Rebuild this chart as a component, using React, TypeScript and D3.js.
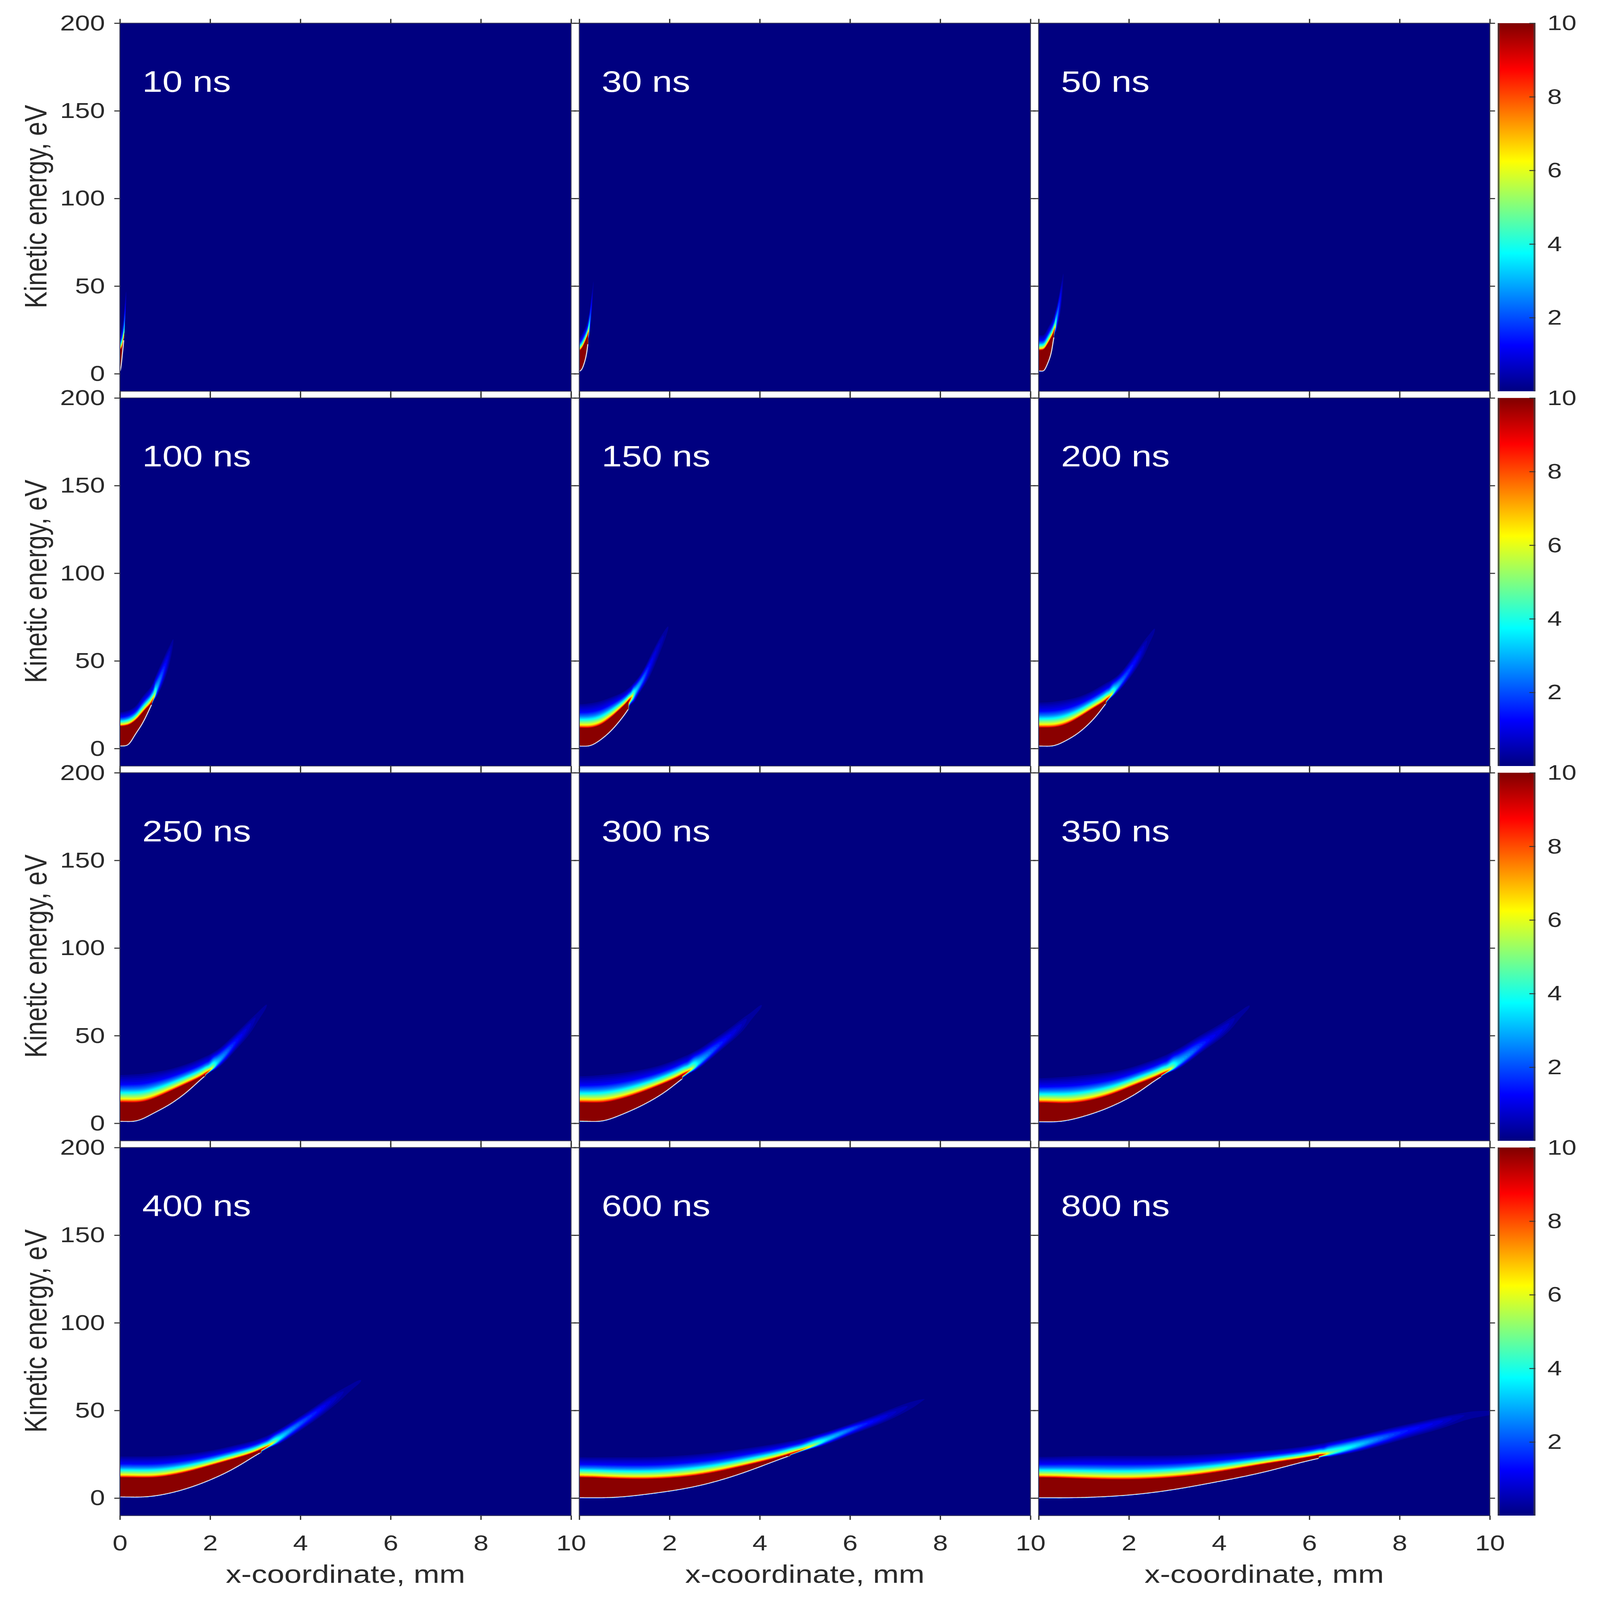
import * as d3 from 'd3';
import { useEffect, useRef } from 'react';

const WIDTH = 4284;
const HEIGHT = 5251;
const PANEL_SIZE = 1208;
const PANEL_LEFT = 321;
const PANEL_TOP = 76;
const PERIOD = 1230;
const BAR_LEFT = 4010;
const BAR_WIDTH = 101;
const FONT = '"Liberation Sans", Arial, sans-serif';
const TEXT_COLOR = '#2a2a2a';
const NAVY = '#000080';

const X_DOMAIN = [0, 10];
const Y_DOMAIN = [-10, 200];
const BAR_DOMAIN = [0, 10];
const X_TICKS = [0, 2, 4, 6, 8, 10];
const Y_TICKS = [0, 50, 100, 150, 200];
const BAR_TICKS = [2, 4, 6, 8, 10];

const JET_STOPS = [0, 1.25, 3.75, 6.25, 8.75, 10];
const JET_COLORS = ['#000080', '#0000ff', '#00ffff', '#ffff00', '#ff0000', '#800000'];

const SAT_T = [0, 0.05, 0.14, 0.23, 0.33, 0.45, 0.62, 1];
const SAT_V = [1, 0.8, 0.6, 0.5, 0.38, 0.25, 0.12, 0];
const BELL_T = [0, 0.1, 0.25, 0.45, 0.65, 0.85, 1];
const BELL_V = [1, 0.97, 0.85, 0.6, 0.33, 0.12, 0];

// per panel: x stations (mm), lower edge, ridge and top of the band (eV), value on the ridge
const X_10 = [0, 0.025, 0.05, 0.07, 0.085, 0.1, 0.115, 0.13, 0.14, 0.15];
const LOW_10 = [1, 4, 10, 15, 19, 24, 30, 37, 42, 46];
const RIDGE_10 = [13.5, 14, 15.5, 17.5, 19.5, 25, 32, 39, 44, 48];
const TOP_10 = [22, 24, 27, 30, 33, 38, 44, 49, 51, 53];
const PEAK_10 = [10, 10, 10, 10, 10, 3.4, 1.8, 0.8, 0.3, 0];

const X_30 = [0, 0.047, 0.116, 0.17, 0.19, 0.226, 0.254, 0.28, 0.3, 0.317, 0.33];
const LOW_30 = [1.3, 2.2, 6.5, 12.6, 17, 24, 30, 37, 43, 48, 52];
const RIDGE_30 = [12.9, 14, 17.3, 20.7, 21.9, 27.7, 34.6, 42.8, 48.5, 53, 57];
const TOP_30 = [20.7, 22.5, 26, 29, 31, 36, 41.6, 47.4, 51.5, 56, 60];
const PEAK_30 = [10, 10, 10, 10, 10, 3.5, 1.9, 1, 0.4, 0.2, 0];

const X_50 = [0, 0.1, 0.21, 0.295, 0.337, 0.39, 0.447, 0.49, 0.53, 0.55, 0.57];
const LOW_50 = [1.6, 1.5, 6.5, 13.5, 21.5, 26, 32, 38, 45, 52, 57];
const RIDGE_50 = [13.2, 13.5, 17.3, 21.3, 23.6, 30, 38, 45, 52, 59, 63];
const TOP_50 = [22.5, 22.5, 27, 31, 33.5, 38, 45, 51.5, 57, 61.5, 65];
const PEAK_50 = [10, 10, 10, 10, 10, 3.5, 1.9, 1.1, 0.4, 0.2, 0];

const X_100 = [0, 0.16, 0.35, 0.49, 0.63, 0.7, 0.82, 0.93, 1.01, 1.095, 1.165, 1.2, 1.25];
const LOW_100 = [1.4, 1.6, 8.5, 13.8, 21, 25, 31, 37, 42, 48, 55, 58, 62];
const RIDGE_100 = [12.5, 13, 16, 20, 24, 25.5, 34.3, 42, 47.6, 53.8, 61, 64, 68];
const TOP_100 = [21, 22, 24.5, 30, 34, 36, 44, 50, 55.5, 60, 63.5, 66, 70];
const PEAK_100 = [10, 10, 10, 10, 10, 10, 3.3, 2, 1.3, 0.7, 0.3, 0.15, 0];

const X_150 = [0, 0.2, 0.42, 0.71, 0.92, 1.08, 1.25, 1.42, 1.56, 1.75, 1.95, 2.1];
const LOW_150 = [1.5, 1.2, 4, 10.2, 16.5, 22, 29.5, 36.5, 42, 53, 64, 74];
const RIDGE_150 = [11.8, 11.5, 12.7, 17.7, 22.7, 26.7, 33, 40, 47.5, 58.5, 68, 77];
const TOP_150 = [26, 26.5, 27.5, 30, 32, 34.5, 39, 45, 53, 63, 72, 80];
const PEAK_150 = [10, 10, 10, 10, 10, 10, 3.5, 2.3, 1.3, 0.7, 0.25, 0];

const X_200 = [0, 0.3, 0.565, 0.86, 1.16, 1.39, 1.48, 1.72, 1.93, 2.16, 2.31, 2.43, 2.58, 2.72];
const LOW_200 = [1.5, 1.2, 4, 8.4, 15.2, 22, 25.8, 32, 38.3, 46.3, 52, 57.5, 63, 68];
const RIDGE_200 = [11.8, 11.8, 13.2, 17, 22, 25.5, 26.7, 34.5, 41.3, 50.6, 56.8, 63, 69, 74];
const TOP_200 = [27, 27.5, 28.5, 30, 33, 36.5, 38, 41, 47.5, 56, 62, 67, 71, 76];
const PEAK_200 = [10, 10, 10, 10, 10, 10, 10, 3.4, 2, 1.2, 0.7, 0.35, 0.2, 0];

const X_250 = [0, 0.24, 0.42, 0.71, 1, 1.3, 1.6, 1.87, 2.16, 2.4, 2.6, 2.84, 3.05, 3.26, 3.45];
const LOW_250 = [1.55, 0.75, 1.4, 5.4, 9.1, 14.1, 20.3, 27, 32, 38, 44, 50, 57, 63, 68];
const RIDGE_250 = [11.9, 11.7, 11.6, 13.5, 16.8, 20.3, 24, 27.2, 34.6, 41.4, 47.6, 54.5, 62, 68, 74];
const TOP_250 = [28, 29, 29, 30, 31, 33, 35.5, 38.5, 42, 48, 53, 59.4, 65, 70, 76];
const PEAK_250 = [10, 10, 10, 10, 10, 10, 10, 10, 3.4, 2.1, 1.3, 0.75, 0.35, 0.2, 0];

const X_300 = [0, 0.45, 0.9, 1.3, 1.7, 2.05, 2.27, 2.65, 2.95, 3.25, 3.55, 3.8, 4.05, 4.25];
const LOW_300 = [1.5, 0.8, 4.6, 9, 14.5, 20.5, 25.5, 32, 38.5, 45, 51, 57, 63, 68];
const RIDGE_300 = [11.9, 11.4, 13.5, 16.8, 20.7, 24.5, 27, 34.3, 41.4, 48, 54.8, 62, 68, 73.5];
const TOP_300 = [27.5, 28.5, 29.5, 31, 33, 36, 38.3, 42.5, 48.5, 53.5, 60, 65.5, 70, 75];
const PEAK_300 = [10, 10, 10, 10, 10, 10, 10, 3.4, 2.1, 1.25, 0.7, 0.3, 0.2, 0];

const X_350 = [0, 0.27, 0.63, 1.03, 1.43, 1.83, 2.23, 2.7, 3.1, 3.44, 3.8, 4.16, 4.44, 4.68, 4.9];
const LOW_350 = [1.5, 0.55, 1.5, 4.2, 7.6, 12.2, 17.8, 26.8, 31.5, 38.5, 45, 51, 58, 63, 67.5];
const RIDGE_350 = [11.9, 11.5, 11.1, 12.2, 14.7, 18.4, 22.8, 27.2, 34, 41.4, 48.3, 55, 62.5, 68, 72.5];
const TOP_350 = [26, 27, 27.5, 28.5, 29.5, 31, 34, 38.3, 43, 49, 54.5, 60, 65.6, 70, 74];
const PEAK_350 = [10, 10, 10, 10, 10, 10, 10, 10, 3.4, 2.2, 1.2, 0.7, 0.3, 0.2, 0];

const X_400 = [0, 0.27, 0.69, 1.37, 2, 2.6, 3.1, 3.57, 3.98, 4.32, 4.74, 5.08, 5.35, 5.6];
const LOW_400 = [1.4, 0.3, 0.85, 4.5, 10.3, 17.7, 26, 32, 39.5, 45, 53, 59, 64, 68];
const RIDGE_400 = [11.9, 11.6, 11.4, 14, 18.4, 22.8, 26.8, 34.6, 42.5, 48.3, 56.7, 63, 68, 72];
const TOP_400 = [24.5, 24.5, 24.5, 25.5, 27.5, 31, 34, 40, 47, 52.5, 61, 66, 71.5, 75];
const PEAK_400 = [10, 10, 10, 10, 10, 10, 10, 3.6, 2.2, 1.5, 0.7, 0.3, 0.2, 0];

const X_600 = [0, 0.23, 0.69, 1.49, 2.49, 3.15, 3.82, 4.62, 5.48, 5.82, 6.28, 6.68, 7.15, 7.68, 8.2, 8.6];
const LOW_600 = [1.3, 0, 0.1, 2.2, 6, 10.3, 16, 24, 31, 35, 39.5, 42.5, 48, 54, 59, 62.5];
const RIDGE_600 = [12.6, 11.8, 11, 10.6, 12.3, 15.3, 19.3, 24.4, 33.3, 37.3, 42, 45, 51, 57, 62, 65];
const TOP_600 = [24, 24, 24, 24, 25.5, 27, 29.5, 32.5, 38, 41, 45, 49, 55, 60, 65, 68];
const PEAK_600 = [10, 10, 10, 10, 10, 10, 10, 10, 3.5, 2.7, 1.6, 1, 0.5, 0.2, 0.2, 0];

const X_800 = [0, 0.2, 0.86, 1.89, 2.92, 3.95, 4.98, 5.66, 6.2, 6.49, 7.1, 7.65, 8.2, 8.75, 9.44, 10];
const LOW_800 = [1.4, 0, 0.2, 1.4, 4.5, 9.3, 14.6, 19.3, 23, 24, 27.7, 31.5, 35.5, 39, 44, 48];
const RIDGE_800 = [12.4, 11.8, 11, 10.3, 11.4, 14.6, 19.3, 22, 23.6, 26, 30.4, 34.8, 38.8, 42.6, 47.5, 51.5];
const TOP_800 = [24, 24, 25, 25, 25, 26, 27.5, 29, 31, 33, 35.6, 40, 43, 46, 50.4, 53.6];
const PEAK_800 = [10, 10, 10, 10, 10, 10, 10, 10, 10, 5, 3.3, 2.2, 1.4, 1, 0.4, 0.25];

const PANELS = [
  { label: '10 ns', x: X_10, low: LOW_10, ridge: RIDGE_10, top: TOP_10, peak: PEAK_10 },
  { label: '30 ns', x: X_30, low: LOW_30, ridge: RIDGE_30, top: TOP_30, peak: PEAK_30 },
  { label: '50 ns', x: X_50, low: LOW_50, ridge: RIDGE_50, top: TOP_50, peak: PEAK_50 },
  { label: '100 ns', x: X_100, low: LOW_100, ridge: RIDGE_100, top: TOP_100, peak: PEAK_100 },
  { label: '150 ns', x: X_150, low: LOW_150, ridge: RIDGE_150, top: TOP_150, peak: PEAK_150 },
  { label: '200 ns', x: X_200, low: LOW_200, ridge: RIDGE_200, top: TOP_200, peak: PEAK_200 },
  { label: '250 ns', x: X_250, low: LOW_250, ridge: RIDGE_250, top: TOP_250, peak: PEAK_250 },
  { label: '300 ns', x: X_300, low: LOW_300, ridge: RIDGE_300, top: TOP_300, peak: PEAK_300 },
  { label: '350 ns', x: X_350, low: LOW_350, ridge: RIDGE_350, top: TOP_350, peak: PEAK_350 },
  { label: '400 ns', x: X_400, low: LOW_400, ridge: RIDGE_400, top: TOP_400, peak: PEAK_400 },
  { label: '600 ns', x: X_600, low: LOW_600, ridge: RIDGE_600, top: TOP_600, peak: PEAK_600 },
  { label: '800 ns', x: X_800, low: LOW_800, ridge: RIDGE_800, top: TOP_800, peak: PEAK_800 },
];

const LEVELS = 50;

// monotone cubic through the read stations, flat outside them
function monotone(xs: number[], ys: number[]) {
  const n = xs.length;
  const d = d3.range(n - 1).map((i) => (ys[i + 1] - ys[i]) / (xs[i + 1] - xs[i]));
  const m = xs.map((_, i) => {
    if (i === 0) return d[0];
    if (i === n - 1) return d[n - 2];
    if (d[i - 1] * d[i] <= 0) return 0;
    return (2 * d[i - 1] * d[i]) / (d[i - 1] + d[i]);
  });
  const bisect = d3.bisector((v: number) => v).right;
  return (x: number) => {
    if (x <= xs[0]) return ys[0];
    if (x >= xs[n - 1]) return ys[n - 1];
    const i = Math.min(bisect(xs, x) - 1, n - 2);
    const h = xs[i + 1] - xs[i];
    const t = (x - xs[i]) / h;
    const t2 = t * t;
    const t3 = t2 * t;
    return (
      (2 * t3 - 3 * t2 + 1) * ys[i] +
      (t3 - 2 * t2 + t) * h * m[i] +
      (-2 * t3 + 3 * t2) * ys[i + 1] +
      (t3 - t2) * h * m[i + 1]
    );
  };
}

// the hand readings are a bit noisy: run them through a triple box filter so the curves have no kinks
function smoothed(xs: number[], ys: number[]) {
  const raw = monotone(xs, ys);
  const xEnd = xs[xs.length - 1];
  const count = 600;
  const radius = 22;
  let samples = d3.range(count + 1).map((k) => raw((k / count) * xEnd));
  for (let pass = 0; pass < 3; pass++) {
    samples = samples.map((_, k) => {
      const lo = Math.max(0, k - radius);
      const hi = Math.min(count, k + radius);
      return d3.mean(samples.slice(lo, hi + 1)) as number;
    });
  }
  return (x: number) => {
    const pos = Math.max(0, Math.min(count, (x / xEnd) * count));
    const k = Math.min(count - 1, Math.floor(pos));
    return samples[k] + (samples[k + 1] - samples[k]) * (pos - k);
  };
}

const smooth = (t: number) => {
  const c = Math.max(0, Math.min(1, t));
  return c * c * (3 - 2 * c);
};

const satShape = d3.scaleLinear().domain(SAT_T).range(SAT_V).clamp(true);
const bellShape = d3.scaleLinear().domain(BELL_T).range(BELL_V).clamp(true);

function makeField(panel: (typeof PANELS)[number]) {
  const low = smoothed(panel.x, panel.low);
  const ridge = smoothed(panel.x, panel.ridge);
  const top = smoothed(panel.x, panel.top);
  const peak = monotone(panel.x, panel.peak);
  const xEnd = panel.x[panel.x.length - 1];
  const value = (x: number, e: number) => {
    if (x > xEnd) return 0;
    const l = low(x);
    const p = Math.min(peak(x), 10);
    const r = Math.max(ridge(x), l + 0.1);
    const w = smooth((p - 3) / 6);
    // the faded ribbon past the tip is blurred on its lower side too
    const floor = l - (1 - w) * 0.7 * (r - l);
    if (e < floor - 0.3) return 0;
    if (e <= r) {
      if (p >= 9.95) return 10 * smooth((e - l + 0.3) / 0.4);
      return p * smooth((e - floor) / (r - floor));
    }
    const t = (e - r) / Math.max(top(x) - r, 0.5);
    return p * (w * satShape(t) + (1 - w) * bellShape(t));
  };
  return { value, low };
}

export default function App() {
  const svgRef = useRef<SVGSVGElement | null>(null);

  useEffect(() => {
    const svgElement = svgRef.current;
    if (!svgElement) return;
    const root = d3.select(svgElement);
    root.selectAll('*').remove();

    const jet = d3.scaleLinear<string>().domain(JET_STOPS).range(JET_COLORS).clamp(true);
    const defs = root.append('defs');
    const gradient = defs
      .append('linearGradient')
      .attr('id', 'jet')
      .attr('x1', 0)
      .attr('y1', 1)
      .attr('x2', 0)
      .attr('y2', 0);
    JET_STOPS.forEach((stop, i) => {
      gradient
        .append('stop')
        .attr('offset', stop / 10)
        .attr('stop-color', JET_COLORS[i]);
    });
    defs
      .append('clipPath')
      .attr('id', 'panel-clip')
      .append('rect')
      .attr('width', PANEL_SIZE)
      .attr('height', PANEL_SIZE);

    const xScale = d3.scaleLinear().domain(X_DOMAIN).range([0, PANEL_SIZE]);
    const yScale = d3.scaleLinear().domain(Y_DOMAIN).range([PANEL_SIZE, 0]);
    const barScale = d3.scaleLinear().domain(BAR_DOMAIN).range([PANEL_SIZE, 0]);
    const thresholds = d3.range(1, LEVELS).map((k) => (k * 10) / LEVELS);

    const styleAxis = (axis: any, size: number) => {
      axis.select('.domain').remove();
      axis.selectAll('line').attr('stroke', '#333').attr('stroke-width', 3.5);
      axis
        .selectAll('text')
        .attr('fill', TEXT_COLOR)
        .attr('font-family', FONT)
        .attr('font-size', size);
    };

    PANELS.forEach((panel, i) => {
      const row = Math.floor(i / 3);
      const col = i % 3;
      const g = root
        .append('g')
        .attr('transform', `translate(${PANEL_LEFT + col * PERIOD}, ${PANEL_TOP + row * PERIOD})`);

      g.append('rect').attr('width', PANEL_SIZE).attr('height', PANEL_SIZE).attr('fill', NAVY);

      const { value, low } = makeField(panel);
      const xEnd = panel.x[panel.x.length - 1];
      const eMin = -1;
      const eMax = (d3.max(panel.top) ?? 0) + 2;
      const nx = Math.max(120, Math.round((xScale(xEnd) - xScale(0)) / 2));
      const ny = Math.round((yScale(eMin) - yScale(eMax)) / 2);
      const dx = xEnd / (nx - 1);
      const de = (eMax - eMin) / (ny - 1);
      const grid = new Array(nx * ny);
      for (let jj = 0; jj < ny; jj++) {
        for (let ii = 0; ii < nx; ii++) {
          grid[jj * nx + ii] = value(ii * dx, eMin + jj * de);
        }
      }

      const contours = d3.contours().size([nx, ny]).smooth(true);
      const projection = d3.geoTransform({
        point(px: number, py: number) {
          (this as any).stream.point(
            xScale((px - 0.5) * dx),
            yScale(eMin + (py - 0.5) * de),
          );
        },
      });
      const path = d3.geoPath(projection);
      const field = g.append('g').attr('clip-path', 'url(#panel-clip)');
      thresholds.forEach((level) => {
        field
          .append('path')
          .attr('d', path(contours.contour(grid, level) as any))
          .attr('fill', jet(level + 5 / LEVELS));
      });

      // thin pale edge under the saturated part of the band
      const firstFade = panel.peak.findIndex((p) => p < 10);
      const lineEnd = firstFade < 0 ? xEnd : panel.x[firstFade - 1];
      const edge = d3
        .line<number>()
        .x((x) => xScale(x))
        .y((x) => yScale(low(x)));
      field
        .append('path')
        .attr('d', edge(d3.range(0, 201).map((k) => (k / 200) * lineEnd)))
        .attr('fill', 'none')
        .attr('stroke', '#d8d2dc')
        .attr('stroke-width', 3);

      g.append('rect')
        .attr('width', PANEL_SIZE)
        .attr('height', PANEL_SIZE)
        .attr('fill', 'none')
        .attr('stroke', '#35355a')
        .attr('stroke-width', 2.5);

      const showX = row === 3;
      const bottomAxis = g
        .append('g')
        .attr('transform', `translate(0, ${PANEL_SIZE})`)
        .call(
          d3
            .axisBottom(xScale)
            .tickValues(X_TICKS)
            .tickSize(14)
            .tickPadding(49)
            .tickFormat((t) => (showX && (col === 0 || +t !== 0) ? String(t) : '')),
        );
      styleAxis(bottomAxis, 72);
      const topAxis = g
        .append('g')
        .call(d3.axisTop(xScale).tickValues(X_TICKS).tickSize(14).tickFormat(() => ''));
      styleAxis(topAxis, 72);
      const leftAxis = g
        .append('g')
        .call(
          d3
            .axisLeft(yScale)
            .tickValues(Y_TICKS)
            .tickSize(15)
            .tickPadding(25)
            .tickFormat((t) => (col === 0 ? String(t) : '')),
        );
      styleAxis(leftAxis, 72);
      const rightAxis = g
        .append('g')
        .attr('transform', `translate(${PANEL_SIZE}, 0)`)
        .call(d3.axisRight(yScale).tickValues(Y_TICKS).tickSize(14).tickFormat(() => ''));
      styleAxis(rightAxis, 72);
      // axes leave empty text nodes for the hidden labels
      g.selectAll('text').filter(function () {
        return !(this as SVGTextElement).textContent;
      }).remove();

      g.append('text')
        .attr('x', 60)
        .attr('y', 225)
        .attr('fill', '#ffffff')
        .attr('font-family', FONT)
        .attr('font-size', 97)
        .text(panel.label);

      if (col === 0) {
        g.append('text')
          .attr('transform', `translate(${124 - PANEL_LEFT}, ${PANEL_SIZE / 2 - 2}) rotate(-90)`)
          .attr('text-anchor', 'middle')
          .attr('fill', TEXT_COLOR)
          .attr('font-family', FONT)
          .attr('font-size', 83)
          .text('Kinetic energy, eV');
      }
      if (showX) {
        g.append('text')
          .attr('x', PANEL_SIZE / 2)
          .attr('y', 1428)
          .attr('text-anchor', 'middle')
          .attr('fill', TEXT_COLOR)
          .attr('font-family', FONT)
          .attr('font-size', 83)
          .text('x-coordinate, mm');
      }
    });

    d3.range(4).forEach((row) => {
      const bar = root
        .append('g')
        .attr('transform', `translate(${BAR_LEFT}, ${PANEL_TOP + row * PERIOD})`);
      bar
        .append('rect')
        .attr('width', BAR_WIDTH)
        .attr('height', PANEL_SIZE)
        .attr('fill', 'url(#jet)');
      [0, BAR_WIDTH - 5].forEach((x) => {
        bar
          .append('rect')
          .attr('x', x)
          .attr('width', 5)
          .attr('height', PANEL_SIZE)
          .attr('fill', '#3c3c3c')
          .attr('fill-opacity', 0.75);
      });
      const axis = bar
        .append('g')
        .attr('transform', `translate(${BAR_WIDTH}, 0)`)
        .call(
          d3
            .axisRight(barScale)
            .tickValues(BAR_TICKS)
            .tickSizeInner(-16)
            .tickSizeOuter(0)
            .tickPadding(32),
        );
      styleAxis(axis, 70);
      axis.selectAll('line').attr('stroke-width', 3);
      axis.selectAll('text').attr('x', 32);
    });
  }, []);

  // the browser may hand us a smaller window than asked for (4096 square here), so map the chart onto whatever it is
  return (
    <svg
      ref={svgRef}
      viewBox={`0 0 ${WIDTH} ${HEIGHT}`}
      preserveAspectRatio="none"
      style={{ position: 'fixed', left: 0, top: 0, width: '100vw', height: '100vh', background: '#ffffff' }}
    />
  );
}
